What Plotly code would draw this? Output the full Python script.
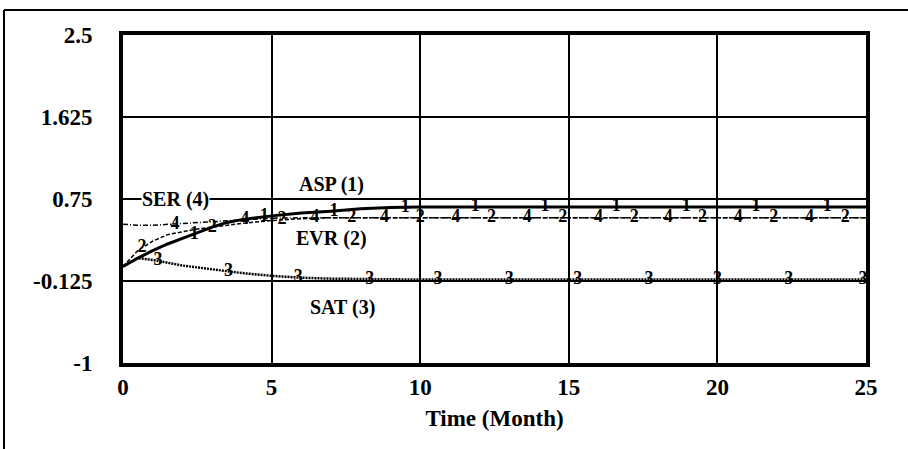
import plotly.graph_objects as go

# ---------------- data ----------------
TIME = [0, 0.5, 1, 1.5, 2, 2.5, 3, 3.5, 4, 5, 6, 7, 8, 9, 10, 12, 15, 20, 25]
ASP = [0.03, 0.12, 0.20, 0.27, 0.33, 0.39, 0.45, 0.50, 0.53, 0.57, 0.60, 0.62, 0.645, 0.66, 0.665, 0.665, 0.665, 0.665, 0.665]
EVR = [0.03, 0.20, 0.30, 0.37, 0.40, 0.43, 0.45, 0.47, 0.49, 0.52, 0.54, 0.55, 0.55, 0.55, 0.55, 0.55, 0.55, 0.55, 0.55]
SAT = [0.03, 0.12, 0.10, 0.07, 0.04, 0.02, 0.00, -0.02, -0.04, -0.07, -0.09, -0.10, -0.105, -0.11, -0.11, -0.11, -0.11, -0.11, -0.11]
SER = [0.48, 0.47, 0.47, 0.48, 0.49, 0.50, 0.51, 0.52, 0.53, 0.545, 0.55, 0.55, 0.55, 0.55, 0.55, 0.55, 0.55, 0.55, 0.55]

ASP_MARK_T = [2.4, 4.75, 7.1, 9.5, 11.85, 14.2, 16.6, 18.95, 21.3, 23.7]
ASP_MARK_V = [0.37, 0.56, 0.62, 0.66, 0.665, 0.665, 0.665, 0.665, 0.665, 0.665]
EVR_MARK_T = [0.64, 3.0, 5.35, 7.7, 10.0, 12.4, 14.8, 17.2, 19.5, 21.9, 24.3]
EVR_MARK_V = [0.23, 0.45, 0.53, 0.55, 0.55, 0.55, 0.55, 0.55, 0.55, 0.55, 0.55]
SAT_MARK_T = [1.18, 3.55, 5.9, 8.3, 10.6, 13.0, 15.3, 17.7, 20.0, 22.4, 24.9]
SAT_MARK_V = [0.09, -0.02, -0.09, -0.11, -0.11, -0.11, -0.11, -0.11, -0.11, -0.11, -0.11]
SER_MARK_T = [1.75, 4.1, 6.45, 8.8, 11.2, 13.6, 16.0, 18.35, 20.7, 23.1]
SER_MARK_V = [0.48, 0.535, 0.55, 0.55, 0.55, 0.55, 0.55, 0.55, 0.55, 0.55]

SERIES_LABELS = ["ASP (1)", "EVR (2)", "SAT (3)", "SER (4)"]
LABEL_T = [7.0, 7.0, 7.4, 1.78]
LABEL_V = [0.90, 0.33, -0.41, 0.75]

Y_TICKS = [-1, -0.125, 0.75, 1.625, 2.5]
Y_TICK_TEXT = ["-1", "-0.125", "0.75", "1.625", "2.5"]
X_TICKS = [0, 5, 10, 15, 20, 25]

SERIF = "Liberation Serif, Times New Roman, serif"

fig = go.Figure()

series = [
    (ASP, ASP_MARK_T, ASP_MARK_V, "1", dict(color="black", width=3, dash="solid")),
    (EVR, EVR_MARK_T, EVR_MARK_V, "2", dict(color="black", width=1.5, dash="4px,2px")),
    (SAT, SAT_MARK_T, SAT_MARK_V, "3", dict(color="black", width=2.5, dash="2px,1px")),
    (SER, SER_MARK_T, SER_MARK_V, "4", dict(color="black", width=1.5, dash="5px,2px,1px,2px")),
]

for vals, mt, mv, num, line in series:
    fig.add_trace(go.Scatter(x=TIME, y=vals, mode="lines", line=line,
                             showlegend=False, hoverinfo="skip"))
    fig.add_trace(go.Scatter(x=mt, y=mv, mode="text", text=["<b>" + num + "</b>"] * len(mt),
                             textposition="middle center",
                             textfont=dict(family=SERIF, size=18, color="black"),
                             showlegend=False, hoverinfo="skip", cliponaxis=False))

for lab, t, v in zip(SERIES_LABELS, LABEL_T, LABEL_V):
    fig.add_annotation(x=t, y=v, text="<b>" + lab + "</b>", showarrow=False, bgcolor="white",
                       borderpad=0,
                       font=dict(family=SERIF, size=20, color="black"))

# outer frame (left and top lines)
fig.add_shape(type="line", xref="paper", yref="paper", x0=(4 - 123) / 743, x1=(908 - 123) / 743,
              y0=(363 - 10) / 328, y1=(363 - 10) / 328, line=dict(color="black", width=2))
fig.add_shape(type="line", xref="paper", yref="paper", x0=(4 - 123) / 743, x1=(4 - 123) / 743,
              y0=(363 - 10) / 328, y1=(363 - 452) / 328, line=dict(color="black", width=2))

fig.update_layout(
    width=908, height=449,
    margin=dict(l=123, r=42, t=35, b=86),
    paper_bgcolor="white", plot_bgcolor="white",
    font=dict(family=SERIF, color="black"),
)
fig.update_xaxes(range=[0, 25], tickvals=X_TICKS, showgrid=True, gridcolor="black", gridwidth=1.5,
                 showline=True, linecolor="black", linewidth=4, mirror=True, zeroline=False,
                 ticks="", ticklabelstandoff=0,
                 tickfont=dict(family=SERIF, size=23, color="black", weight="bold"),
                 title=dict(text="Time (Month)", standoff=12,
                            font=dict(family=SERIF, size=23, color="black", weight="bold")))
fig.update_yaxes(range=[-1, 2.5], tickvals=Y_TICKS, ticktext=Y_TICK_TEXT, showgrid=True,
                 gridcolor="black", gridwidth=1.5,
                 showline=True, linecolor="black", linewidth=4, mirror=True, zeroline=False,
                 ticks="", ticklabelstandoff=22,
                 tickfont=dict(family=SERIF, size=23, color="black", weight="bold"))

fig.write_html("out.html")
